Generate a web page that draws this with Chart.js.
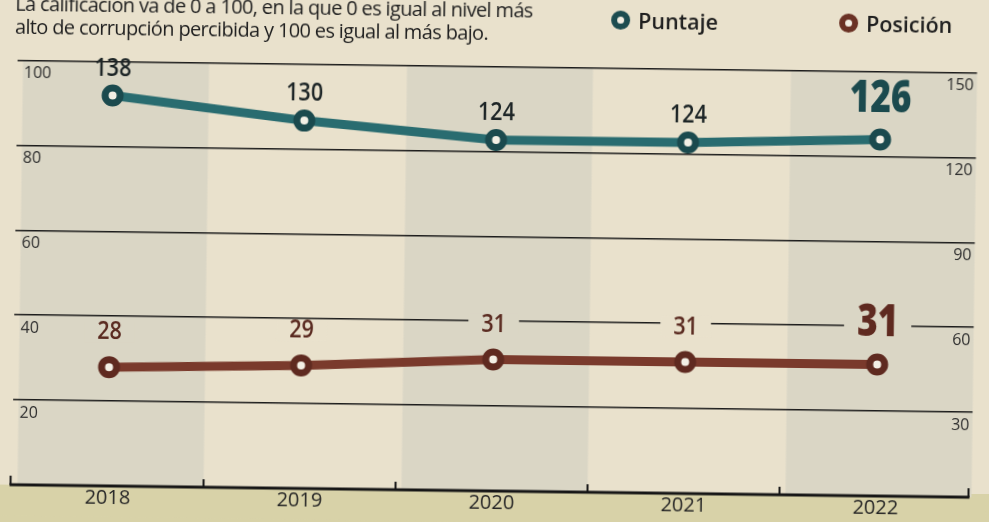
<!DOCTYPE html>
<html>
<head>
<meta charset="utf-8">
<script src="https://cdn.jsdelivr.net/npm/chart.js@4/dist/chart.umd.min.js"></script>
<style>
  html, body { margin:0; padding:0; width:989px; height:522px; overflow:hidden;
    background: linear-gradient(to bottom, #e9e1cc 0, #e9e1cc 494px, #d8d2a8 494px); }
  #wrap { position:absolute; left:0; top:0; width:989px; height:522px;
    transform: rotate(0.75deg); transform-origin: 494px 261px; }
  #c { position:absolute; left:0; top:0; }
  .note { position:absolute; left:12px; top:-2px; font-family:"Open Sans", sans-serif;
    font-size:20px; letter-spacing:-0.65px; line-height:23px; color:#1f1f1f; white-space:nowrap; }
  .leg { position:absolute; top:4px; font-family:"Open Sans", sans-serif; font-weight:600;
    font-size:21.5px; color:#1f1f1f; display:flex; align-items:center; white-space:nowrap; }
  .dot { display:inline-block; width:7px; height:7px; border-radius:50%;
    border:6px solid; background:#f1ede2; margin-right:8px; }
</style>
</head>
<body>
<div id="wrap">
  <canvas id="c" width="989" height="522"></canvas>
  <div class="note">La calificación va de 0 a 100, en la que 0 es igual al nivel más<br>alto de corrupción percibida y 100 es igual al más bajo.</div>
  <div class="leg" style="left:608px;"><span class="dot" style="border-color:#1c4c50"></span>Puntaje</div>
  <div class="leg" style="left:836px;"><span class="dot" style="border-color:#6a3124"></span>Posición</div>
</div>
<script>
// ---- data ----
const years = ['2018', '2019', '2020', '2021', '2022'];
const puntajeValues = [138, 130, 124, 124, 126];   // teal line, right axis
const posicionValues = [28, 29, 31, 31, 31];       // brown line, left axis
const leftTicks = [0, 20, 40, 60, 80, 100];
const rightTicks = [0, 30, 60, 90, 120, 150];

// ---- style ----
const PAPER = '#e9e1cc';
const BAND = '#dad6c5';
const OLIVE = '#d8d2a8';
const TEAL = '#296c70';
const TEAL_DARK = '#1b4a4e';
const BROWN = '#7a3a2c';
const BROWN_DARK = '#5f2a20';
const NUMFONT = '"Open Sans", sans-serif';

const bandsPlugin = {
  id: 'bands',
  beforeDraw(chart) {
    const { ctx, chartArea } = chart;
    const x = chart.scales.x, y = chart.scales.y;
    const y0 = y.getPixelForValue(0);
    const half = (x.getPixelForValue(1) - x.getPixelForValue(0)) / 2;
    ctx.save();
    ctx.fillStyle = OLIVE;
    ctx.fillRect(0, y0, chart.width, chart.height - y0);
    ctx.fillStyle = BAND;
    years.forEach((yr, i) => {
      if (i % 2 === 0) {
        const cx = x.getPixelForValue(i);
        ctx.fillRect(cx - half + 6, chartArea.top, half * 2 - 6, y0 - chartArea.top);
      }
    });
    ctx.restore();
  }
};

const axisPlugin = {
  id: 'axisLine',
  afterDatasetsDraw(chart) {
    const { ctx, chartArea } = chart;
    const x = chart.scales.x, y = chart.scales.y;
    const y0 = y.getPixelForValue(0);
    const half = (x.getPixelForValue(1) - x.getPixelForValue(0)) / 2;
    ctx.save();
    ctx.strokeStyle = '#161616';
    ctx.lineWidth = 3;
    ctx.beginPath();
    ctx.moveTo(chartArea.left - 2, y0);
    ctx.lineTo(chartArea.right - 2, y0);
    ctx.stroke();
    ctx.lineWidth = 2;
    ctx.beginPath();
    ctx.moveTo(chartArea.left - 1, y0); ctx.lineTo(chartArea.left - 1, y0 - 9);
    ctx.moveTo(chartArea.right - 3, y0); ctx.lineTo(chartArea.right - 3, y0 - 9);
    for (let i = 0; i < years.length - 1; i++) {
      const bx = x.getPixelForValue(i) + half;
      ctx.moveTo(bx, y0); ctx.lineTo(bx, y0 - 8);
    }
    ctx.stroke();
    ctx.restore();
  }
};

const labelStyles = [
  { color: '#1d2526', bigColor: TEAL_DARK, off: 27, bigOff: 40, knockout: false },
  { color: '#5a2a20', bigColor: BROWN_DARK, off: 35, bigOff: 41, knockout: true }
];

const labelPlugin = {
  id: 'pointLabels',
  afterDatasetsDraw(chart) {
    const ctx = chart.ctx;
    chart.data.datasets.forEach((ds, di) => {
      const meta = chart.getDatasetMeta(di);
      const st = labelStyles[di];
      meta.data.forEach((pt, i) => {
        const last = i === meta.data.length - 1;
        const text = String(ds.data[i]);
        const size = last ? 44 : 25;
        const squeeze = last ? 0.8 : 0.86;
        const ly = pt.y - (last ? st.bigOff : st.off);
        ctx.save();
        ctx.font = `${last ? 800 : 600} ${size}px ${NUMFONT}`;
        const w = ctx.measureText(text).width * squeeze;
        if (st.knockout) {
          ctx.fillStyle = (i % 2 === 0) ? BAND : PAPER;
          ctx.fillRect(pt.x - w / 2 - 13, ly - size * 0.42, w + 26, size * 0.84);
        }
        ctx.translate(pt.x, ly);
        ctx.scale(squeeze, 1);
        ctx.fillStyle = last ? st.bigColor : st.color;
        ctx.textAlign = 'center';
        ctx.textBaseline = 'middle';
        ctx.fillText(text, 0, 0);
        ctx.restore();
      });
    });
  }
};

new Chart(document.getElementById('c'), {
  type: 'line',
  data: {
    labels: years,
    datasets: [
      {
        label: 'Puntaje', data: puntajeValues, yAxisID: 'y1',
        borderColor: TEAL, borderWidth: 9, tension: 0,
        pointRadius: 7.5, pointBorderWidth: 7,
        pointBackgroundColor: '#f3efe5', pointBorderColor: TEAL_DARK
      },
      {
        label: 'Posición', data: posicionValues, yAxisID: 'y',
        borderColor: BROWN, borderWidth: 9, tension: 0,
        pointRadius: 7.5, pointBorderWidth: 7,
        pointBackgroundColor: '#f3efe5', pointBorderColor: BROWN_DARK
      }
    ]
  },
  options: {
    responsive: false,
    animation: false,
    layout: { padding: { left: 7, right: 12, top: 66.5, bottom: 7 } },
    plugins: { legend: { display: false }, tooltip: { enabled: false } },
    scales: {
      x: {
        type: 'category', offset: true,
        grid: { display: false, drawTicks: false },
        border: { display: false },
        ticks: { font: { family: NUMFONT, size: 20 }, color: '#262626', padding: 0 }
      },
      y: {
        position: 'left', min: 0, max: 100,
        afterFit: s => { s.width = 0; },
        afterBuildTicks: s => { s.ticks = leftTicks.map(v => ({ value: v })); },
        ticks: {
          mirror: true, padding: 7, labelOffset: 13,
          font: { family: NUMFONT, size: 16 }, color: '#2e2e2e',
          callback: v => (v === 0 ? '' : String(v))
        },
        grid: {
          color: '#1c1c1c', drawTicks: false,
          lineWidth: c => (c.tick && c.tick.value === 0 ? 0 : 1.6)
        },
        border: { display: false }
      },
      y1: {
        position: 'right', min: 0, max: 150,
        afterFit: s => { s.width = 0; },
        afterBuildTicks: s => { s.ticks = rightTicks.map(v => ({ value: v })); },
        ticks: {
          mirror: true, padding: -3, labelOffset: 13,
          font: { family: NUMFONT, size: 16 }, color: '#2e2e2e',
          callback: v => (v === 0 ? '' : String(v))
        },
        grid: { display: false, drawTicks: false },
        border: { display: false }
      }
    }
  },
  plugins: [bandsPlugin, axisPlugin, labelPlugin]
});
</script>
</body>
</html>
